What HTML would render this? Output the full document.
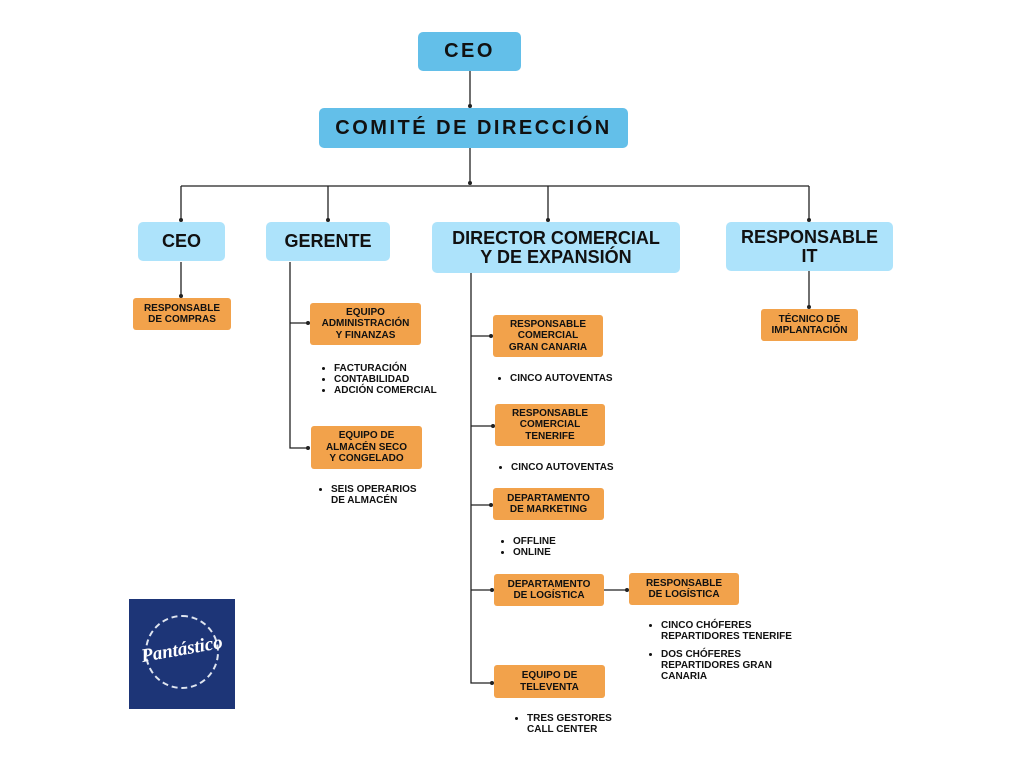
<!DOCTYPE html>
<html><head><meta charset="utf-8"><style>
body{margin:0;width:1024px;height:768px;background:#fff;position:relative;overflow:hidden;font-family:"Liberation Sans",sans-serif;font-weight:bold;color:#111}
.b{position:absolute;display:flex;align-items:center;justify-content:center;text-align:center;border-radius:5px;box-sizing:border-box;line-height:1.05}
.d{background:#63bfe9;font-size:20px;letter-spacing:2.5px}
.l{background:#ade3fb;font-size:18px}
.o{background:#f2a24b;font-size:10px;line-height:1.15;border-radius:3px}
.t{position:absolute;font-size:10px;line-height:11px;white-space:nowrap}
.t ul{margin:0;padding-left:14px}
.t li{margin:0}
svg{position:absolute;left:0;top:0}
</style></head><body>
<svg width="1024" height="768">
<g stroke="#222" stroke-width="1.3" fill="none">
<path d="M470 71V106M470 148V184M181 186H809M181 186V221M328 186V221M548 186V221M809 186V221"/>
<path d="M181 262V297M290 262V448H309M290 323H309M471 273V683H493M471 336H492M471 426H494M471 505H492M471 590H493M604 590H628M809 271V308"/>
</g>
<g fill="#222">
<circle cx="470" cy="106" r="2"/><circle cx="470" cy="183" r="2"/><circle cx="181" cy="220" r="2"/><circle cx="328" cy="220" r="2"/><circle cx="548" cy="220" r="2"/><circle cx="809" cy="220" r="2"/>
<circle cx="181" cy="296" r="2"/><circle cx="308" cy="323" r="2"/><circle cx="308" cy="448" r="2"/><circle cx="491" cy="336" r="2"/><circle cx="493" cy="426" r="2"/><circle cx="491" cy="505" r="2"/><circle cx="492" cy="590" r="2"/><circle cx="627" cy="590" r="2"/><circle cx="492" cy="683" r="2"/><circle cx="809" cy="307" r="2"/>
</g>
</svg>
<div class="b d" style="left:418px;top:32px;width:103px;height:39px">CEO</div>
<div class="b d" style="left:319px;top:108px;width:309px;height:40px">COMITÉ DE DIRECCIÓN</div>
<div class="b l" style="left:138px;top:222px;width:87px;height:39px">CEO</div>
<div class="b l" style="left:266px;top:222px;width:124px;height:39px">GERENTE</div>
<div class="b l" style="left:432px;top:222px;width:248px;height:51px">DIRECTOR COMERCIAL<br>Y DE EXPANSIÓN</div>
<div class="b l" style="left:726px;top:222px;width:167px;height:49px">RESPONSABLE<br>IT</div>
<div class="b o" style="left:133px;top:298px;width:98px;height:32px">RESPONSABLE<br>DE COMPRAS</div>
<div class="b o" style="left:310px;top:303px;width:111px;height:42px">EQUIPO<br>ADMINISTRACIÓN<br>Y FINANZAS</div>
<div class="b o" style="left:311px;top:426px;width:111px;height:43px">EQUIPO DE<br>ALMACÉN SECO<br>Y CONGELADO</div>
<div class="b o" style="left:493px;top:315px;width:110px;height:42px">RESPONSABLE<br>COMERCIAL<br>GRAN CANARIA</div>
<div class="b o" style="left:495px;top:404px;width:110px;height:42px">RESPONSABLE<br>COMERCIAL<br>TENERIFE</div>
<div class="b o" style="left:493px;top:488px;width:111px;height:32px">DEPARTAMENTO<br>DE MARKETING</div>
<div class="b o" style="left:494px;top:574px;width:110px;height:32px">DEPARTAMENTO<br>DE LOGÍSTICA</div>
<div class="b o" style="left:629px;top:573px;width:110px;height:32px">RESPONSABLE<br>DE LOGÍSTICA</div>
<div class="b o" style="left:494px;top:665px;width:111px;height:33px">EQUIPO DE<br>TELEVENTA</div>
<div class="b o" style="left:761px;top:309px;width:97px;height:32px">TÉCNICO DE<br>IMPLANTACIÓN</div>
<div class="t" style="left:320px;top:363px"><ul><li>FACTURACIÓN</li><li>CONTABILIDAD</li><li>ADCIÓN COMERCIAL</li></ul></div>
<div class="t" style="left:317px;top:484px"><ul><li>SEIS OPERARIOS<br>DE ALMACÉN</li></ul></div>
<div class="t" style="left:496px;top:373px"><ul><li>CINCO AUTOVENTAS</li></ul></div>
<div class="t" style="left:497px;top:462px"><ul><li>CINCO AUTOVENTAS</li></ul></div>
<div class="t" style="left:499px;top:536px"><ul><li>OFFLINE</li><li>ONLINE</li></ul></div>
<div class="t" style="left:647px;top:620px"><ul><li>CINCO CHÓFERES<br>REPARTIDORES TENERIFE</li><li style="margin-top:7px">DOS CHÓFERES<br>REPARTIDORES GRAN<br>CANARIA</li></ul></div>
<div class="t" style="left:513px;top:713px"><ul><li>TRES GESTORES<br>CALL CENTER</li></ul></div>
<div style="position:absolute;left:129px;top:599px;width:106px;height:110px;background:#1d3577">
<div style="position:absolute;left:16px;top:16px;width:70px;height:70px;border:2px dashed #dfe5f0;border-radius:50%"></div>
<div style="position:absolute;left:0;top:40px;width:106px;text-align:center;color:#fff;font-family:'Liberation Serif',serif;font-style:italic;font-size:19px;transform:rotate(-10deg)">Pantástico</div>
</div>
</body></html>
